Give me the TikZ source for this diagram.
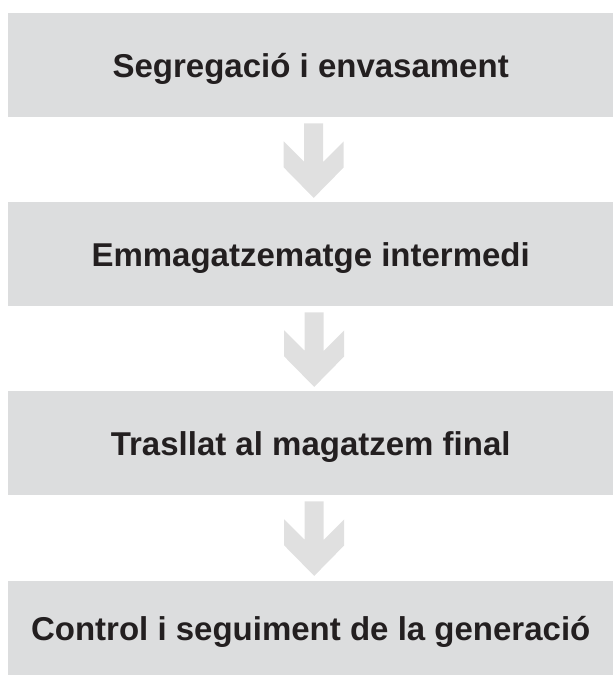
\documentclass[tikz,border=0pt]{standalone}
\usepackage{fontspec}
\setmainfont{Liberation Sans}
\usetikzlibrary{calc}
\definecolor{boxgray}{RGB}{220,221,222}
\definecolor{arrowgray}{RGB}{224,224,224}
\definecolor{txtdark}{RGB}{35,31,32}
\tikzset{
  stagebox/.style={fill=boxgray, draw=none, minimum width=605pt, minimum height=104pt,
    inner sep=0pt, text=txtdark, font=\fontsize{33}{38}\selectfont\bfseries,
    text height=30.7pt, text depth=6.9pt},
  flowarrow/.style={fill=arrowgray, draw=none}
}
\newcommand\flowdown[1]{%
  \fill[flowarrow] ($(#1)+(-9.5,6)$) -- ($(#1)+(9.5,6)$) -- ($(#1)+(9.5,44.5)$)
   -- ($(#1)+(30,24)$) -- ($(#1)+(30,50)$) -- ($(#1)+(0,80.5)$)
   -- ($(#1)+(-30,50)$) -- ($(#1)+(-30,24)$) -- ($(#1)+(-9.5,44.5)$) -- cycle;}
\begin{document}
\begin{tikzpicture}[x=1pt,y=-1pt]
\useasboundingbox (0,0) rectangle (613,675);
\node[stagebox, anchor=north west] (b1) at (8,13) {Segregació i envasament};
\node[stagebox, anchor=north west] (b2) at (8,202) {Emmagatzematge intermedi};
\node[stagebox, anchor=north west] (b3) at (8,391) {Trasllat al magatzem final};
\node[stagebox, anchor=north west, minimum height=94pt] (b4) at (8,581) {Control i seguiment de la generació};
\coordinate (a1) at ($(b1.south)+(3,0)$);
\coordinate (a2) at ($(b2.south)+(3.5,0)$);
\coordinate (a3) at ($(b3.south)+(3.5,0)$);
\flowdown{a1}
\flowdown{a2}
\flowdown{a3}
\end{tikzpicture}
\end{document}
